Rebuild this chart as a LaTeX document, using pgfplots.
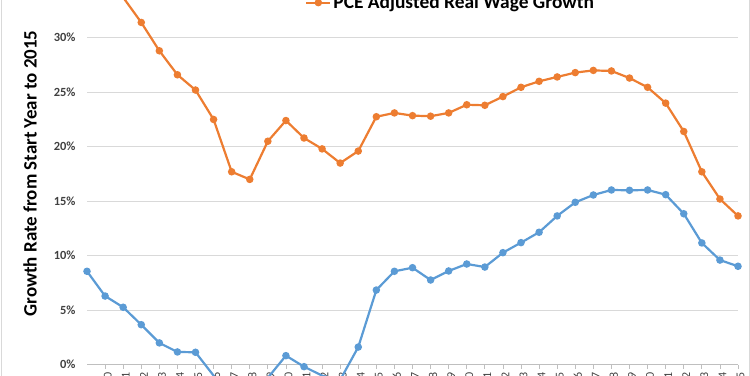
\documentclass[border=0pt]{standalone}
\usepackage{fontspec}
\setmainfont{Carlito}
\usepackage{pgfplots}
\pgfplotsset{compat=1.18}
\definecolor{pceorange}{HTML}{ED7D31}
\definecolor{wageblue}{HTML}{5B9BD5}
\definecolor{gridgray}{HTML}{D9D9D9}
\definecolor{axisgray}{HTML}{BFBFBF}
\definecolor{labgray}{HTML}{404040}
\begin{document}
\begin{tikzpicture}[x=1bp,y=1bp]
\clip (0,0) rectangle (750,375);
\begin{axis}[
  at={(87bp,0bp)}, anchor=south west,
  scale only axis, width=651bp, height=375bp,
  xmin=0, xmax=36, ymin=-0.945, ymax=33.46,
  clip=true,
  /pgf/number format/assume math mode=true,
  axis x line=middle, axis y line=left,
  x axis line style={-, draw=axisgray, line width=0.8bp},
  y axis line style={draw=none},
  xtick={0,...,36},
  xticklabels={1979,1980,1981,1982,1983,1984,1985,1986,1987,1988,1989,1990,1991,1992,1993,1994,1995,1996,1997,1998,1999,2000,2001,2002,2003,2004,2005,2006,2007,2008,2009,2010,2011,2012,2013,2014,2015},
  xticklabel style={rotate=90, anchor=east, font=\fontsize{12}{12}\selectfont, text=labgray, yshift=-2.5bp},
  x tick style={draw=axisgray, line width=0.8bp},
  xtick align=outside,
  major tick length=4bp,
  ytick={0,5,10,15,20,25,30},
  yticklabel={\pgfmathprintnumber{\tick}\%},
  yticklabel style={font=\bfseries\fontsize{12.5}{12.5}\selectfont, text=labgray, anchor=east, xshift=-6bp},
  y tick style={draw=none},
  ymajorgrids, y grid style={draw=gridgray, line width=0.9bp},
  legend style={at={(0.3349,0.993)}, anchor=west, draw=none, fill=none,
    font=\bfseries\fontsize{19.5}{20}\selectfont, inner sep=0pt,
    /tikz/every even column/.append style={column sep=2bp}},
  legend image code/.code={\draw[#1, mark repeat=2, mark phase=2] plot coordinates {(0bp,0bp) (12bp,0bp) (24bp,0bp)};},
]
\addplot[wageblue, line width=2.2bp, mark=*, mark size=2.6bp, mark options={solid, fill=wageblue}, forget plot] coordinates {
(0,8.57) (1,6.3) (2,5.27) (3,3.67) (4,2.0) (5,1.17) (6,1.14) (7,-1.0) (8,-5.2) (9,-5.3)
(10,-1.2) (11,0.83) (12,-0.18) (13,-1.0) (14,-1.4) (15,1.62) (16,6.85) (17,8.57) (18,8.9) (19,7.77)
(20,8.6) (21,9.24) (22,8.96) (23,10.28) (24,11.2) (25,12.15) (26,13.65) (27,14.9) (28,15.57) (29,16.03)
(30,16.0) (31,16.03) (32,15.6) (33,13.85) (34,11.17) (35,9.6) (36,9.03)
};
\addplot[pceorange, line width=2.2bp, mark=*, mark size=2.6bp, mark options={solid, fill=pceorange}] coordinates {
(0,39.0) (1,36.2) (2,33.7) (3,31.4) (4,28.8) (5,26.6) (6,25.2) (7,22.5) (8,17.7) (9,17.0)
(10,20.5) (11,22.4) (12,20.8) (13,19.8) (14,18.5) (15,19.6) (16,22.75) (17,23.1) (18,22.85) (19,22.8)
(20,23.1) (21,23.85) (22,23.8) (23,24.6) (24,25.45) (25,26.0) (26,26.4) (27,26.8) (28,27.0) (29,26.95)
(30,26.3) (31,25.45) (32,24.0) (33,21.4) (34,17.7) (35,15.2) (36,13.65)
};
\addlegendentry{PCE Adjusted Real Wage Growth}
\end{axis}
\node[rotate=90, font=\bfseries\fontsize{19}{19}\selectfont, text=black] at (30,201.5) {Growth Rate from Start Year to 2015};
\draw[gridgray, line width=0.8bp] (1.5,-5) -- (1.5,380);
\draw[gridgray, line width=0.8bp] (749,-5) -- (749,380);
\end{tikzpicture}
\end{document}
